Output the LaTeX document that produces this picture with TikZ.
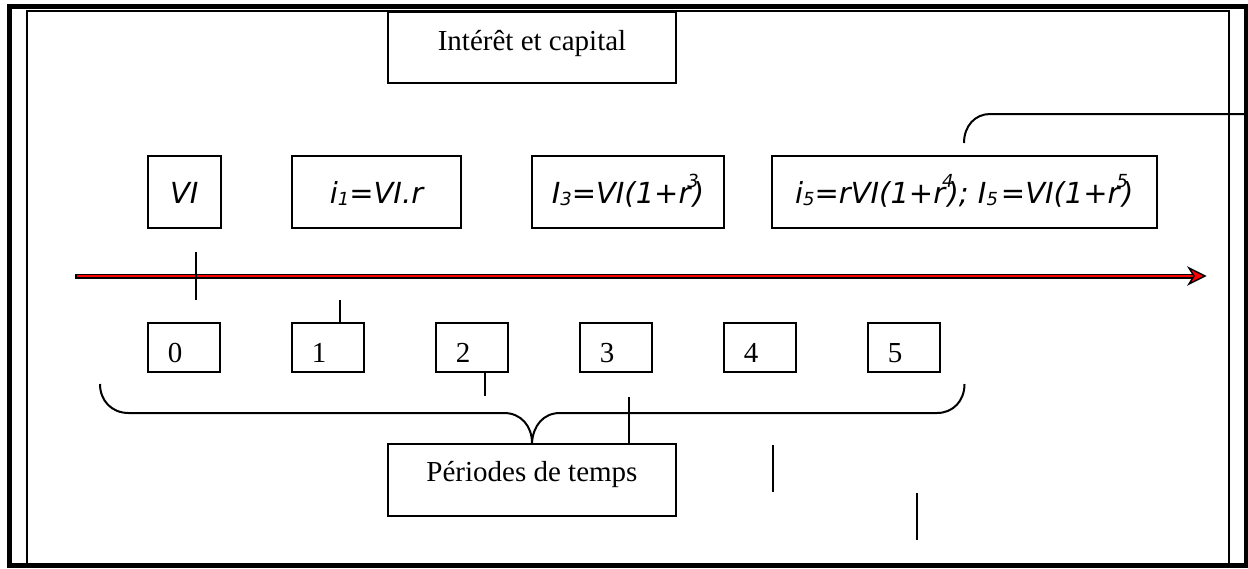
\documentclass[tikz,border=0pt]{standalone}
\usepackage{fontspec}
\setmainfont{Liberation Serif}
\newfontfamily\formfont{DejaVu Sans}
\usetikzlibrary{calc}

\newcommand{\idx}[1]{\raisebox{-1pt}{\fontsize{9pt}{9pt}\selectfont #1}}
\newcommand{\pw}[1]{\kern-1.5pt\raisebox{8pt}{\fontsize{9pt}{9pt}\selectfont #1}\kern-3pt}

\tikzset{
  box/.style={draw, line width=1pt, inner sep=0pt, font=\fontsize{14.5pt}{17pt}\selectfont},
  numbox/.style={box, inner xsep=10pt, text height=19.75pt, text depth=4.75pt},
  formbox/.style={box, font=\fontsize{14.5pt}{17pt}\selectfont\formfont\itshape,
    text height=23.75pt, text depth=12.5pt},
  titlebox/.style={box, minimum width=144pt},
  link/.style={line width=1pt},
}

\begin{document}
\begin{tikzpicture}[x=0.5pt, y=-0.5pt]
  \useasboundingbox (0,0) rectangle (1248,568);
  % frames
  \draw[line width=2.5pt] (9,6.5) rectangle (1246,565.5);
  \draw[line width=1pt] (27,566) -- (27,11) -- (1229,11) -- (1229,566);

  \node[titlebox, text height=19.35pt, text depth=16.15pt] (cap) at (532,47.5) {Intérêt et capital};

  % formulas
  \node[formbox, minimum width=36.25pt] (vi) at (184.25,191.75) {VI};
  \node[formbox, minimum width=84.5pt] (i1) at (376.5,191.75) {i\idx{1}=VI.r};
  \node[formbox, minimum width=96pt] (i3) at (628,191.75) {I\idx{3}=VI(1+r\pw{3})};
  \node[formbox, minimum width=192.25pt] (i5) at (964.25,191.75)
    {i\idx{5}=rVI(1+r\pw{4}); I\idx{5}\kern1.5pt=VI(1+r\pw{5})};

  % time line
  \coordinate (tstart) at (75,276);
  \coordinate (tend) at (1205,276);
  \draw[line width=2.5pt] (tstart) -- ($(tend)+(-10,0)$);
  \draw[red, line width=1pt] ($(tstart)+(1.5,0)$) -- ($(tend)+(-10,0)$);
  \filldraw[fill=red, line width=0.75pt, line join=miter] (tend) -- ++(-16,-8) -- ++(5,8) -- ++(-5,8) -- cycle;

  % periods
  \foreach \k in {0,...,5}
    \node[numbox] (n\k) at ({184+144*\k},347.5) {\makebox[16.25pt][l]{\k}};

  \node[titlebox, text height=18.85pt, text depth=17.15pt] (per) at (532,480) {Périodes de temps};

  % ticks
  \coordinate (t0a) at (196,252);
  \coordinate (t0b) at (196,300);
  \draw[link] (t0a) -- (t0b);
  \coordinate (t1) at (340,300);
  \draw[link] (t1) -- (t1 |- n1.north);
  \coordinate (t2) at (485,396);
  \draw[link] (t2 |- n2.south) -- (t2);
  \coordinate (t3) at (629,397);
  \draw[link] (t3) -- (t3 |- per.north);
  \coordinate (s1a) at (772.5,445);
  \coordinate (s1b) at (772.5,492);
  \draw[link] (s1a) -- (s1b);
  \coordinate (s2a) at (917,493);
  \draw[link] (s2a) -- ++(0,47);

  % brace
  \coordinate (bl) at (100,384);
  \coordinate (br) at (964.5,384);
  \draw[link] (bl) .. controls (100,401) and (112,413) .. (128.5,413) -- (504,413)
    .. controls (521,413) and (532,426) .. (per.north)
    .. controls (533,426) and (543,413) .. (560,413) -- (937,413)
    .. controls (953,413) and (964.5,401) .. (br);

  % top connector
  \coordinate (c5) at (964,143);
  \coordinate (c5end) at (1248,114);
  \draw[link] (c5) .. controls (964,126) and (975,114) .. (990,114) -- (c5end);
\end{tikzpicture}
\end{document}
